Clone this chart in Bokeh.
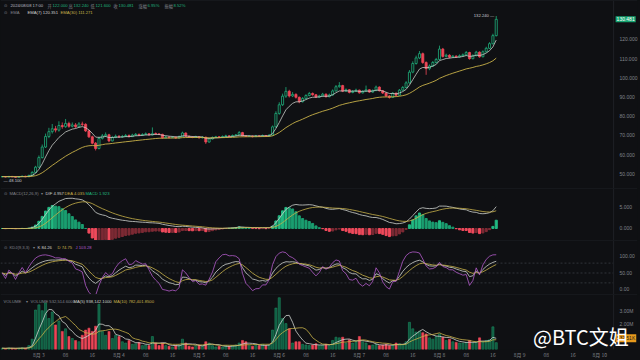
import numpy as np
import pandas as pd
from bokeh.plotting import figure
from bokeh.layouts import column
from bokeh.models import (ColumnDataSource, Range1d, FixedTicker, Label, Span,
                          NumeralTickFormatter, GlobalInlineStyleSheet)
from bokeh.embed import file_html
from bokeh.resources import INLINE

# ---------------- data (hourly candles) ----------------
start_time = "2024-08-02 13:00"
first_open = 48.5
close = [
    48.6, 48.4, 48.7, 48.5, 48.3, 48.6, 48.8, 48.5,
    49.2, 50.8, 53.5, 58.5, 64.0, 69.5, 72.0, 73.5,
    72.8, 75.2, 74.6, 76.3, 74.8, 75.5, 74.6, 76.0,
    75.8, 72.4, 69.3, 66.0, 63.2, 68.5, 69.8, 70.4,
    67.2, 69.0, 69.6, 69.2, 69.5, 70.0, 69.4, 70.2,
    70.6, 70.1, 70.5, 70.9, 70.3, 71.0, 70.8, 70.6,
    68.8, 69.2, 68.9, 69.1, 68.7, 69.4, 71.3, 69.6,
    69.2, 69.0, 69.4, 68.8, 69.1, 66.6, 68.2, 69.0,
    69.3, 69.1, 69.5, 69.8, 69.6, 70.0, 70.3, 71.5,
    69.8, 69.5, 69.7, 69.4, 69.8, 69.6, 70.0, 69.7,
    70.2, 74.5, 81.5, 86.0, 90.5, 93.0, 90.6, 91.4,
    89.9, 87.6, 89.3, 90.8, 91.9, 91.2, 90.0, 90.6,
    91.5, 90.2, 91.1, 93.2, 95.4, 96.0, 93.1, 93.8,
    92.4, 93.0, 93.6, 92.2, 93.0, 93.8, 92.6, 93.4,
    95.2, 93.3, 92.1, 90.6, 89.8, 92.0, 91.0, 93.6,
    95.0, 97.4, 103.0, 107.5, 110.4, 112.6, 108.0, 104.8,
    106.2, 108.0, 109.6, 115.0, 111.2, 111.8, 110.8, 111.3,
    110.9, 111.5, 112.0, 113.2, 110.0, 111.6, 113.4, 111.0,
    113.6, 115.4, 117.8, 122.0, 130.481,
]
high = [
    48.9, 48.8, 48.9, 48.9, 48.7, 48.8, 49.1, 49.0,
    49.6, 51.4, 54.2, 59.6, 65.3, 71.0, 74.0, 76.0,
    75.0, 77.4, 76.8, 78.6, 77.2, 76.8, 76.5, 77.0,
    77.2, 76.4, 73.0, 69.9, 66.6, 69.4, 70.8, 71.6,
    70.9, 69.8, 70.5, 70.2, 70.3, 70.8, 70.6, 70.9,
    71.3, 71.0, 71.2, 71.6, 71.3, 74.2, 71.6, 71.3,
    70.9, 69.8, 69.6, 69.7, 69.5, 70.0, 72.0, 71.6,
    70.0, 69.7, 69.9, 69.7, 69.6, 69.4, 68.8, 69.5,
    69.8, 69.7, 70.0, 70.4, 70.2, 70.5, 70.8, 72.3,
    71.9, 70.2, 70.1, 70.0, 70.3, 70.2, 70.5, 70.3,
    70.7, 75.2, 82.6, 87.3, 91.8, 95.2, 93.8, 92.6,
    92.0, 90.3, 90.0, 91.5, 92.7, 92.4, 91.6, 91.2,
    92.2, 91.9, 91.8, 94.0, 96.3, 97.8, 96.4, 94.5,
    94.2, 93.7, 94.4, 93.9, 93.6, 96.0, 94.1, 94.0,
    96.0, 95.6, 93.7, 92.5, 91.0, 92.6, 92.4, 94.2,
    95.8, 98.3, 104.1, 108.6, 111.6, 114.0, 113.2, 108.6,
    107.0, 108.8, 110.4, 116.8, 115.6, 112.6, 112.3, 111.9,
    111.8, 112.2, 112.7, 114.0, 113.6, 112.3, 114.1, 113.8,
    114.3, 116.2, 118.6, 123.0, 132.24,
]
low = [
    48.3, 48.2, 48.3, 48.3, 48.1, 48.2, 48.5, 48.3,
    48.4, 49.0, 50.5, 53.2, 58.0, 63.5, 68.6, 71.0,
    71.6, 72.0, 73.5, 74.0, 74.0, 74.2, 73.8, 74.2,
    74.9, 71.8, 68.7, 65.4, 62.2, 62.8, 67.9, 69.2,
    66.5, 66.9, 68.6, 68.7, 68.9, 69.2, 69.0, 69.2,
    69.9, 69.7, 69.8, 70.2, 70.0, 70.0, 70.4, 70.2,
    68.3, 68.5, 68.5, 68.6, 68.3, 68.5, 69.2, 69.2,
    68.9, 68.6, 68.8, 68.4, 68.5, 65.6, 66.3, 67.9,
    68.7, 68.8, 68.9, 69.3, 69.3, 69.4, 69.8, 70.1,
    69.5, 69.2, 69.3, 69.0, 69.2, 69.3, 69.4, 69.4,
    69.5, 70.0, 74.0, 80.8, 85.4, 89.6, 89.8, 90.0,
    89.2, 86.8, 87.2, 88.9, 90.4, 90.7, 89.5, 89.7,
    90.3, 89.8, 89.9, 90.8, 92.9, 94.9, 92.6, 92.7,
    91.9, 92.0, 92.7, 91.8, 91.9, 92.7, 92.2, 92.3,
    93.1, 92.9, 91.6, 90.0, 89.2, 89.5, 90.5, 90.8,
    93.2, 94.6, 97.0, 102.4, 106.9, 109.8, 107.3, 101.6,
    104.0, 105.7, 107.5, 109.2, 110.6, 110.7, 110.2, 110.4,
    110.4, 110.6, 111.1, 111.7, 109.5, 109.7, 111.2, 110.5,
    110.7, 113.2, 115.0, 117.4, 121.6,
]
volume_m = [
    0.10, 0.08, 0.12, 0.09, 0.07, 0.11, 0.13, 0.10,
    0.30, 0.80, 3.05, 3.45, 3.00, 3.60, 2.40, 2.90,
    1.90, 2.20, 1.40, 1.60, 1.00, 0.85, 0.70, 0.60,
    1.10, 1.50, 1.65, 1.40, 1.80, 3.50, 1.40, 1.10,
    1.40, 0.85, 1.10, 1.00, 0.60, 0.50, 0.70, 0.40,
    0.45, 0.55, 0.30, 0.35, 0.30, 1.00, 0.50, 0.30,
    0.50, 0.30, 0.25, 0.20, 0.30, 0.35, 0.80, 0.50,
    0.25, 0.20, 0.30, 0.35, 0.30, 0.60, 0.50, 0.30,
    0.20, 0.25, 0.20, 0.30, 0.25, 0.30, 0.35, 0.50,
    0.70, 0.60, 0.30, 0.25, 0.35, 0.30, 0.40, 0.30,
    0.35, 1.50, 3.20, 4.00, 2.40, 2.00, 1.60, 0.50,
    0.60, 0.60, 0.40, 0.35, 0.30, 0.35, 0.45, 0.30,
    0.35, 0.40, 0.30, 0.70, 0.95, 0.90, 0.95, 0.50,
    0.75, 0.50, 0.60, 1.00, 0.60, 0.50, 0.30, 0.35,
    0.40, 0.30, 0.35, 0.40, 0.30, 0.35, 0.50, 0.45,
    0.40, 0.60, 2.10, 1.60, 1.35, 1.40, 1.30, 1.20,
    0.90, 0.80, 1.00, 1.20, 0.95, 0.70, 0.80, 0.60,
    0.55, 0.50, 0.50, 0.55, 0.70, 0.50, 0.55, 0.90,
    0.60, 0.70, 0.75, 1.75, 0.53,
]
price_ticks = [50, 60, 70, 80, 90, 100, 110, 120]
macd_ticks = [0, 5]
kdj_ticks = [0, 50, 100]
kdj_levels = [20, 50, 80]
vol_ticks = [2_000_000, 3_000_000]
vol_tick_labels = ["2.00M", "3.00M"]
day_names = ["8月 3", "8月 4", "8月 5", "8月 6", "8月 7", "8月 8", "8月 9", "8月 10"]
hour_names = ["08", "16"]

# ---------------- derived series ----------------
n = len(close)
HOUR = 3_600_000
t = pd.date_range(start_time, periods=n, freq="h")
xs_ms = (t.asi8 // 1_000_000).astype(float)
opens = [first_open] + close[:-1]
vol = [v * 1e6 for v in volume_m]

cs = pd.Series(close)
ema7 = cs.ewm(span=7, adjust=False).mean()
ema30 = cs.ewm(span=30, adjust=False).mean()
dif = cs.ewm(span=12, adjust=False).mean() - cs.ewm(span=26, adjust=False).mean()
dea = dif.ewm(span=9, adjust=False).mean()
hist = 2 * (dif - dea)

K, D = [], []
kp, dp = 50.0, 50.0
for i in range(n):
    lo = min(low[max(0, i - 8):i + 1])
    hi = max(high[max(0, i - 8):i + 1])
    rsv = (close[i] - lo) / (hi - lo) * 100 if hi > lo else 50
    kp = 2 / 3 * kp + rsv / 3
    dp = 2 / 3 * dp + kp / 3
    K.append(kp)
    D.append(dp)
J = [3 * k - 2 * d for k, d in zip(K, D)]
vs = pd.Series(vol)
ma5 = vs.rolling(5, min_periods=1).mean()
ma10 = vs.rolling(10, min_periods=1).mean()

# ---------------- style ----------------
BG = "#0f1013"
GREEN = "#1fb07c"
RED = "#ee4657"
WHITE_L = "#cfd3cf"
YELLOW = "#c9b24a"
PURPLE = "#b45ccc"
AXIS_C = "#80838a"
GRIDC = "#1f2126"
W = 640
FS = "4.2px"
LAT = "Liberation Sans"
CJK = "Noto Sans CJK SC"

PX_PER_HOUR = 3.354
x_start = xs_ms[0] - 0.5 * HOUR
x_div = x_start + 616 / PX_PER_HOUR * HOUR      # price-scale column begins here
x_end = x_start + 640 / PX_PER_HOUR * HOUR
xr = Range1d(x_start, x_end)


def make_fig(h, y0, y1, bottom=False):
    p = figure(width=W, height=h, x_range=xr, y_range=Range1d(y0, y1),
               output_backend="svg", toolbar_location=None,
               y_axis_location="right", x_axis_location="below" if bottom else None,
               min_border_left=0, min_border_right=0, min_border_top=0,
               min_border_bottom=0)
    p.background_fill_color = BG
    p.border_fill_color = BG
    p.outline_line_color = None
    p.grid.grid_line_color = None
    p.yaxis.axis_line_color = None
    p.yaxis.major_tick_line_color = None
    p.yaxis.minor_tick_line_color = None
    p.yaxis.major_tick_out = 0
    p.yaxis.major_tick_in = 0
    p.yaxis.major_label_text_color = AXIS_C
    p.yaxis.major_label_text_font_size = "5px"
    p.yaxis.major_label_text_font = LAT
    p.yaxis.major_label_standoff = -18
    p.add_layout(Span(location=x_div, dimension="height", line_color=GRIDC, line_width=1))
    p.add_layout(Span(location=y1, dimension="width", line_color=GRIDC, line_width=1))
    return p


def add_label(p, x_px, y_px, text, color, font=LAT, size=FS):
    p.add_layout(Label(x=x_start, y=p.y_range.end, x_offset=x_px, y_offset=-y_px,
                       text=text, text_color=color, text_font_size=size,
                       text_baseline="middle", text_font=font))


def box_label(p, yv, text, fill, color):
    p.add_layout(Label(x=x_div, y=yv, x_offset=2, text=text, text_align="left",
                       text_baseline="middle", text_font_size="5px", text_color=color,
                       background_fill_color=fill, text_font=LAT, padding=1))


# ---- price panel ----
p1 = make_fig(188, 42.4, 140.3)
p1.yaxis.ticker = FixedTicker(ticks=price_ticks)
p1.yaxis.formatter = NumeralTickFormatter(format="0.000")
up = [c >= o for o, c in zip(opens, close)]
src = ColumnDataSource(dict(x=xs_ms, o=opens, c=close, h=high, l=low,
                            top=[max(a, b) for a, b in zip(opens, close)],
                            bot=[min(a, b) for a, b in zip(opens, close)],
                            col=[GREEN if u else RED for u in up],
                            fill=[BG if u else RED for u in up]))
p1.segment("x", "h", "x", "l", source=src, line_color="col", line_width=0.8)
p1.vbar(x="x", top="top", bottom="bot", width=0.62 * HOUR, source=src,
        fill_color="fill", line_color="col", line_width=0.8)
p1.line(xs_ms, ema7, line_color=WHITE_L, line_width=0.9, line_alpha=0.85)
p1.line(xs_ms, ema30, line_color=YELLOW, line_width=0.9)

add_label(p1, 3, 5, "⊙", AXIS_C)
add_label(p1, 10, 5, "2024/08/08 17:00", "#b9bcc2")
add_label(p1, 47, 5, "开", AXIS_C, CJK)
add_label(p1, 52, 5, "122.000", GREEN)
add_label(p1, 68, 5, "高", AXIS_C, CJK)
add_label(p1, 73, 5, "132.240", GREEN)
add_label(p1, 90, 5, "低", AXIS_C, CJK)
add_label(p1, 95, 5, "121.600", GREEN)
add_label(p1, 113, 5, "收", AXIS_C, CJK)
add_label(p1, 118, 5, "130.481", GREEN)
add_label(p1, 138, 5, "涨幅", AXIS_C, CJK)
add_label(p1, 147, 5, "6.95%", GREEN)
add_label(p1, 164, 5, "振幅", AXIS_C, CJK)
add_label(p1, 173, 5, "8.52%", GREEN)
add_label(p1, 3, 12, "⊙", AXIS_C)
add_label(p1, 10, 12, "EMA", AXIS_C)
add_label(p1, 27, 12, "EMA(7) 120.351", WHITE_L)
add_label(p1, 60, 12, "EMA(30) 111.271", YELLOW)

imax = int(np.argmax(high))
p1.add_layout(Label(x=xs_ms[imax], y=high[imax], x_offset=-2, text="132.240 —",
                    text_align="right", text_baseline="middle", text_font_size=FS,
                    text_color="#c9cbd0", text_font=LAT))
imin = int(np.argmin(low))
p1.add_layout(Label(x=xs_ms[imin], y=low[imin], x_offset=-12, y_offset=-3, text="— 48.100",
                    text_align="left", text_baseline="middle", text_font_size=FS,
                    text_color="#c9cbd0", text_font=LAT))
box_label(p1, close[-1], "130.481", "#17a571", "#ffffff")

# ---- MACD panel ----
p2 = make_fig(52, -2.86, 9.52)
p2.yaxis.ticker = FixedTicker(ticks=macd_ticks)
p2.yaxis.formatter = NumeralTickFormatter(format="0.000")
hcol = []
for i, hv in enumerate(hist):
    prev = hist[i - 1] if i > 0 else 0
    if hv >= 0:
        hcol.append("#22b982" if hv >= prev else "#1a9e70")
    else:
        hcol.append("#f04a5c" if hv <= prev else "#7d2a34")
p2.vbar(x=xs_ms, top=list(hist), bottom=0, width=0.62 * HOUR, fill_color=hcol,
        line_color=hcol)
p2.line(xs_ms, dif, line_color=WHITE_L, line_width=0.8)
p2.line(xs_ms, dea, line_color=YELLOW, line_width=0.8)
add_label(p2, 3, 5, "⊙", AXIS_C)
add_label(p2, 9, 5, "MACD(12,26,9)", AXIS_C)
add_label(p2, 40, 5, "▾", AXIS_C)
add_label(p2, 45, 5, "DIF 4.957", WHITE_L)
add_label(p2, 64, 5, "DEA 4.035", YELLOW)
add_label(p2, 85, 5, "MACD 1.923", "#22b982")

# ---- KDJ panel ----
p3 = make_fig(54, -15.2, 148.5)
p3.yaxis.ticker = FixedTicker(ticks=kdj_ticks)
p3.yaxis.formatter = NumeralTickFormatter(format="0.00")
p3.segment(x0=[x_start] * len(kdj_levels), y0=kdj_levels,
           x1=[x_div] * len(kdj_levels), y1=kdj_levels,
           line_color="#3a3d44", line_dash="2 2", line_width=0.8)
p3.line(xs_ms, K, line_color=WHITE_L, line_width=0.8)
p3.line(xs_ms, D, line_color=YELLOW, line_width=0.8)
p3.line(xs_ms, J, line_color=PURPLE, line_width=0.8)
add_label(p3, 3, 7, "⊙", AXIS_C)
add_label(p3, 9, 7, "KDJ(9,3,3)", AXIS_C)
add_label(p3, 32, 7, "▾", AXIS_C)
add_label(p3, 37, 7, "K 84.26", WHITE_L)
add_label(p3, 57, 7, "D 74.75", YELLOW)
add_label(p3, 75, 7, "J 103.28", PURPLE)

# ---- volume panel ----
p4 = make_fig(66, 0, 4_250_000, bottom=True)
p4.yaxis.ticker = FixedTicker(ticks=vol_ticks)
p4.yaxis.major_label_overrides = {v: s for v, s in zip(vol_ticks, vol_tick_labels)}
vfill = ["#0f5a40" if u else RED for u in up]
vline = ["#1c8a5f" if u else RED for u in up]
p4.vbar(x=xs_ms, top=vol, bottom=0, width=0.62 * HOUR, fill_color=vfill,
        line_color=vline, line_width=0.6)
p4.line(xs_ms, ma5, line_color=WHITE_L, line_width=0.8)
p4.line(xs_ms, ma10, line_color=YELLOW, line_width=0.8)
add_label(p4, 3, 7, "VOLUME", AXIS_C)
add_label(p4, 25, 7, "▾", AXIS_C)
add_label(p4, 30, 7, "VOLUME 532,514.6000", AXIS_C)
add_label(p4, 73, 7, "MA(5) 938,142.1000", WHITE_L)
add_label(p4, 113, 7, "MA(10) 782,401.8500", YELLOW)
box_label(p4, ma5.iloc[-1], "532.51K", "#e89a1c", "#1a1a1a")

# x axis labels
day0 = pd.Timestamp("2024-08-03 00:00")
tick_ms, tick_lab = [], []
for d, dn in enumerate(day_names):
    base = day0 + pd.Timedelta(days=d)
    tick_ms.append(int(base.value // 1_000_000))
    tick_lab.append(dn)
    for hn in hour_names:
        tt = base + pd.Timedelta(hours=int(hn))
        ms = int(tt.value // 1_000_000)
        if ms < x_div:
            tick_ms.append(ms)
            tick_lab.append(hn)
p4.xaxis.ticker = FixedTicker(ticks=tick_ms)
p4.xaxis.major_label_overrides = {m: s for m, s in zip(tick_ms, tick_lab)}
p4.xaxis.axis_line_color = None
p4.xaxis.major_tick_line_color = None
p4.xaxis.minor_tick_line_color = None
p4.xaxis.major_tick_out = 0
p4.xaxis.major_tick_in = 0
p4.xaxis.major_label_standoff = 1
p4.xaxis.major_label_text_color = AXIS_C
p4.xaxis.major_label_text_font_size = "5px"
p4.xaxis.major_label_text_font = CJK

# watermark
p4.add_layout(Label(x=x_start + 535 / PX_PER_HOUR * HOUR, y=0, y_offset=-1,
                    text="@BTC文姐", text_color="#ffffff", text_font_size="20px",
                    text_baseline="bottom", text_font=CJK))

layout = column(p1, p2, p3, p4, spacing=0)
layout.stylesheets = [GlobalInlineStyleSheet(css="body{background:#0f1013;margin:0;}")]
open("out.html", "w").write(file_html(layout, INLINE))
